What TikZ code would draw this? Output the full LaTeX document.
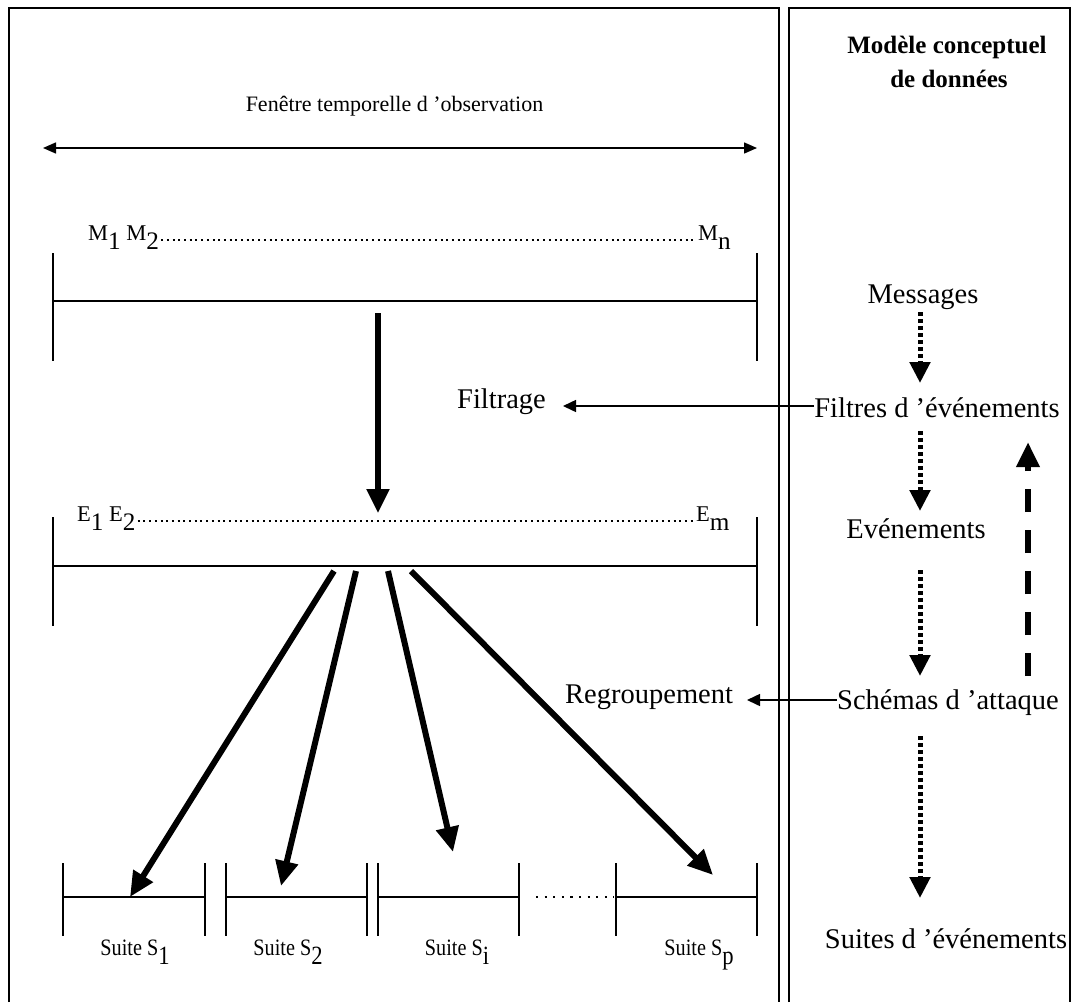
\documentclass[tikz,border=0pt]{standalone}
\usepackage{fontspec}
\usepackage{graphicx}
\setmainfont{Liberation Serif}
\newfontfamily\narrowserif[FakeStretch=0.86]{Liberation Serif}
\usetikzlibrary{arrows.meta}
% lowered, slightly enlarged index, as in M_1, E_m, S_p
\newcommand\lowsub[1]{\raisebox{-0.42em}{\scalebox{1.12}{#1}}}
\tikzset{
  panel/.style={line width=1.5pt},
  rule/.style={line width=1.5pt},
  lbl/.style={inner sep=0pt, anchor=base, font=\fontsize{28.5}{34}\selectfont},
  seqtxt/.style={inner sep=0pt, anchor=base west, font=\fontsize{22.5}{26}\selectfont},
  suitetxt/.style={inner sep=0pt, anchor=base, font=\narrowserif\fontsize{23.5}{27}\selectfont},
  dotrow/.style={line width=2pt, dash pattern=on 2pt off 3.7pt},
  thinarr/.style={line width=1.5pt, -{Triangle[length=13pt,width=12pt]}},
  spanarr/.style={line width=1.5pt, {Triangle[length=13pt,width=11pt]}-{Triangle[length=13pt,width=11pt]}},
  thickarr/.style={line width=5.5pt, -{Triangle[length=24pt,width=22pt]}},
  fanarr/.style={line width=6pt, -{Triangle[length=25pt,width=22pt]}},
  dotarr/.style={line width=5pt, dash pattern=on 4pt off 3pt, -{Triangle[length=21pt,width=20pt]}},
  dasharr/.style={line width=6.5pt, dash pattern=on 23pt off 18pt, -{Triangle[length=25pt,width=22pt]}},
}
\begin{document}
\begin{tikzpicture}[x=1pt,y=-1pt]
\useasboundingbox (0,0) rectangle (1071,1002);
\fill[white] (0,0) rectangle (1071,1002);

% two panels (open at the bottom)
\draw[panel] (9,1002) -- (9,8) -- (779,8) -- (779,1002);
\draw[panel] (789,1002) -- (789,8) -- (1070,8) -- (1070,1002);

% ---------- left panel ----------
\node[inner sep=0pt, font=\fontsize{22}{26}\selectfont] (title) at (394.5,106) {Fenêtre temporelle d ’observation};
\coordinate (winL) at (43,148);
\coordinate (winR) at (757,148);
\draw[spanarr] (winL) -- (winR);

% messages
\node[seqtxt] (m12) at (88,240) {M\lowsub{1} M\lowsub{2}};
\node[seqtxt] (mn) at (698,240) {M\lowsub{n}};
\draw[dotrow] ([xshift=2pt]m12.base east) -- ([xshift=-1pt]mn.base west);
\draw[rule] (53,253) -- (53,361);
\draw[rule] (757,253) -- (757,361);
\draw[rule] (53,301) -- (757,301);

% filtering step
\coordinate (fsrc) at (378,313);
\coordinate (fdst) at (378,513);
\draw[thickarr] (fsrc) -- (fdst);
\node[lbl, anchor=base west] (filtrage) at (457,408) {Filtrage};

% events
\node[seqtxt] (e12) at (77,521) {E\lowsub{1} E\lowsub{2}};
\node[seqtxt] (em) at (696,521) {E\lowsub{m}};
\draw[dotrow] ([xshift=2pt]e12.base east) -- ([xshift=-1pt]em.base west);
\draw[rule] (53,517) -- (53,626);
\draw[rule] (757,517) -- (757,626);
\draw[rule] (53,566) -- (757,566);

% grouping step
\node[lbl, anchor=base west] (regroup) at (565,703) {Regroupement};

% sequences
\foreach \a/\b in {63/205, 226/367, 378/519, 616/757}{
  \draw[rule] (\a,863) -- (\a,936);
  \draw[rule] (\b,863) -- (\b,936);
  \draw[rule] (\a,897) -- (\b,897);
}
\draw[line width=2.2pt, dash pattern=on 2.2pt off 6.4pt] (536,897) -- (614,897);

\node[suitetxt] (s1) at (135,955) {Suite S\lowsub{1}};
\node[suitetxt] (s2) at (288,955) {Suite S\lowsub{2}};
\node[suitetxt] (si) at (457,955) {Suite S\lowsub{i}};
\node[suitetxt] (sp) at (699,955) {Suite S\lowsub{p}};

\coordinate (g1) at (334,571);
\coordinate (g2) at (356,571);
\coordinate (g3) at (388,571);
\coordinate (g4) at (411,571);
\coordinate (t1) at (130,897);
\coordinate (t2) at (281,886);
\coordinate (t3) at (453,852);
\coordinate (t4) at (713,875);
\draw[fanarr] (g1) -- (t1);
\draw[fanarr] (g2) -- (t2);
\draw[fanarr] (g3) -- (t3);
\draw[fanarr] (g4) -- (t4);

% ---------- right panel ----------
\node[inner sep=0pt, anchor=base, font=\bfseries\fontsize{25}{30}\selectfont] (hd1) at (947,53) {Modèle conceptuel};
\node[inner sep=0pt, anchor=base, font=\bfseries\fontsize{25}{30}\selectfont] (hd2) at (949,87) {de données};

\node[lbl] (msg) at (923,303) {Messages};
\node[lbl] (filtres) at (937,417) {Filtres d ’événements};
\node[lbl] (evts) at (916,538) {Evénements};
\node[lbl] (schemas) at (948,709) {Schémas d ’attaque};
\node[lbl] (suites) at (946,948) {Suites d ’événements};

\coordinate (d1a) at (920,312); \coordinate (d1b) at (920,383);
\coordinate (d2a) at (920,431); \coordinate (d2b) at (920,511);
\coordinate (d3a) at (920,570); \coordinate (d3b) at (920,676);
\coordinate (d4a) at (920,736); \coordinate (d4b) at (920,898);
\draw[dotarr] (d1a) -- (d1b);
\draw[dotarr] (d2a) -- (d2b);
\draw[dotarr] (d3a) -- (d3b);
\draw[dotarr] (d4a) -- (d4b);

\coordinate (fb0) at (1028,676);
\coordinate (fb1) at (1028,442);
\draw[dasharr] (fb0) -- (fb1);

% links from the data model to the processing steps
\coordinate (fa) at (563,406);
\draw[thinarr] (fa -| filtres.west) -- (fa);
\coordinate (ra) at (747,700);
\draw[thinarr] (ra -| schemas.west) -- (ra);
\end{tikzpicture}
\end{document}
